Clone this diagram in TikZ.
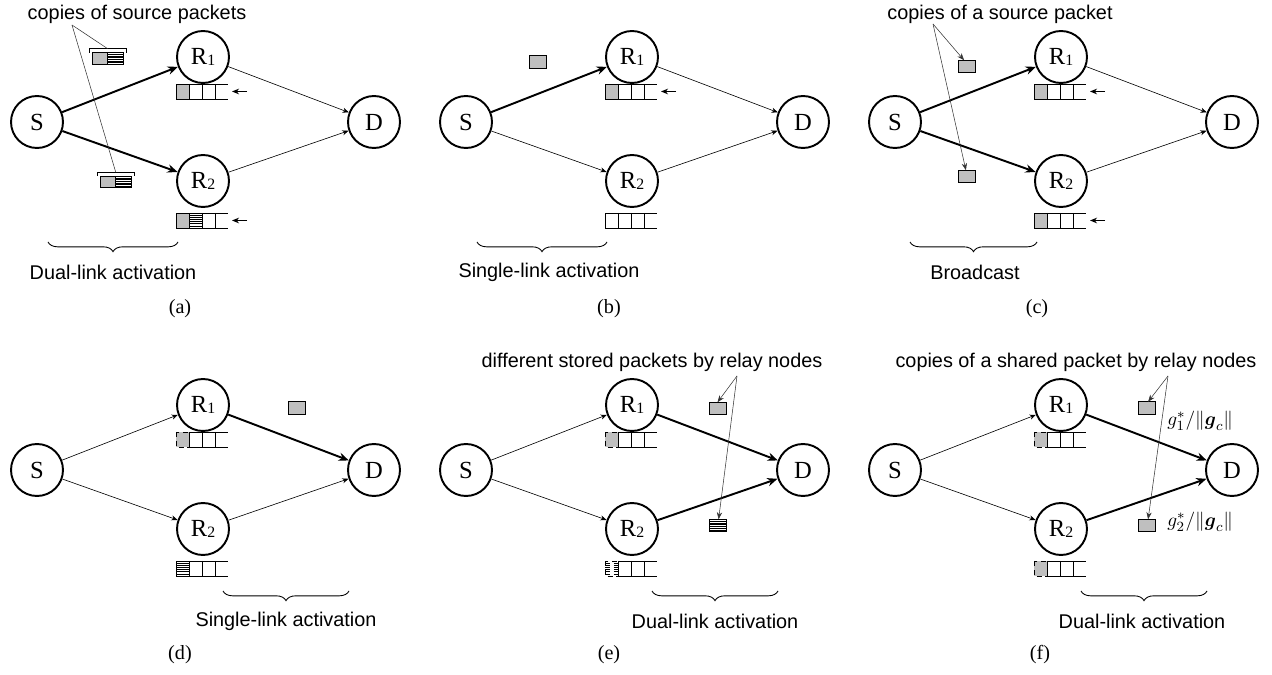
\documentclass[tikz,border=0pt]{standalone}
\usepackage{amsmath,amssymb}
\usepackage{fontspec}
\setmainfont{Liberation Serif}
\setsansfont{Liberation Sans}
\usetikzlibrary{arrows.meta,calc,decorations.pathreplacing}
\definecolor{pktgray}{RGB}{191,191,191}

% small index of a relay name
\newcommand{\rsub}[1]{\raisebox{-0.6pt}{\fontsize{9}{9}\selectfont #1}}
% queue of a relay: #1 top-left corner, #2 style of the head cell
\newcommand{\qbuf}[2]{%
  \draw[#2] (#1) rectangle ++(13,15);
  \draw[bufline] ($(#1)+(13,0)$) -- ++(39,0) ($(#1)+(13,15)$) -- ++(39,0);
  \foreach \k in {13,26,39} \draw[bufline] ($(#1)+(\k,0)$) -- ++(0,15);
}

\begin{document}
\begin{tikzpicture}[
  x=0.02cm, y=-0.02cm,
  relay/.style={circle, draw, line width=1.1pt, minimum size=1.04cm, inner sep=0pt, font=\fontsize{14}{14}\selectfont},
  linkthick/.style={-{Stealth[length=2.5pt 3, width=2pt 2.5]}, line width=1.1pt},
  linkthin/.style={-{Stealth[length=2.5pt 3, width=2pt 2.5]}, line width=0.35pt},
  callout/.style={line width=0.3pt, black!80, -{Stealth[length=4pt, width=3pt]}},
  leader/.style={line width=0.3pt, black!80},
  bufline/.style={line width=0.55pt},
  bufarrow/.style={line width=0.6pt, -{Stealth[length=4pt, width=3.2pt]}},
  hatchfill/.style={path picture={
    \foreach \k in {1,...,6}
      \draw[line width=0.3pt] ($(path picture bounding box.north west)!\k/7!(path picture bounding box.south west)$) -- ($(path picture bounding box.north east)!\k/7!(path picture bounding box.south east)$);}},
  cellfull/.style={bufline, fill=pktgray},
  cellghost/.style={bufline, densely dashed, fill=pktgray},
  cellhatch/.style={bufline, hatchfill},
  cellghosthatch/.style={bufline, densely dashed, hatchfill},
  cellnone/.style={bufline},
  packet/.style={rectangle, draw, line width=0.5pt, fill=pktgray, inner sep=0pt, outer sep=0pt, minimum width=0.34cm, minimum height=0.25cm},
  pairbox/.style={minimum width=0.31cm, minimum height=0.23cm},
  bracketline/.style={line width=0.5pt},
  brace/.style={decorate, decoration={brace, mirror, amplitude=5.5pt}, line width=0.5pt},
  caption/.style={font=\sffamily\fontsize{11.3}{12}\selectfont, inner sep=1pt},
  gainlabel/.style={anchor=west, inner sep=0pt, font=\fontsize{11}{12}\selectfont},
  tag/.style={font=\fontsize{11.5}{12}\selectfont}
]
\useasboundingbox (0,0) rectangle (1272,675);

% the same four-node network in every panel
\foreach \p/\px/\py/\lsa/\lsb/\lra/\lrb in {
    a/0/0/linkthick/linkthick/linkthin/linkthin,
    b/429/0/linkthick/linkthin/linkthin/linkthin,
    c/858/0/linkthick/linkthick/linkthin/linkthin,
    d/0/348/linkthin/linkthin/linkthick/linkthin,
    e/429/348/linkthin/linkthin/linkthick/linkthick,
    f/858/348/linkthin/linkthin/linkthick/linkthick} {
  \begin{scope}[shift={(\px,\py)}]
    \node[relay] (S\p) at (37,122) {S};
    \node[relay] (R1\p) at (203,57) {R\rsub{1}};
    \node[relay] (R2\p) at (203,181) {R\rsub{2}};
    \node[relay] (D\p) at (374,122) {D};
    \draw[\lsa] (S\p) -- (R1\p);
    \draw[\lsb] (S\p) -- (R2\p);
    \draw[\lra] (R1\p) -- (D\p);
    \draw[\lrb] (R2\p) -- (D\p);
    \coordinate (Q1\p) at (176,84);
    \coordinate (Q2\p) at (176,213);
  \end{scope}
}

% (a) dual-link activation
\qbuf{Q1a}{cellfull}
\qbuf{Q2a}{cellfull}
\path[hatchfill] ($(Q2a)+(13,0)$) rectangle ++(13,15);
\draw[bufarrow] ($(Q1a)+(71,7.5)$) -- ++(-15,0);
\draw[bufarrow] ($(Q2a)+(71,7.5)$) -- ++(-15,0);
\node[caption] (capa) at (137,14) {copies of source packets};
\coordinate (ta) at (72,25);
\node[packet, pairbox] (pa1) at (100,58.5) {};
\node[packet, pairbox, fill=white, hatchfill, anchor=west] (pa2) at (pa1.east) {};
\node[packet, pairbox] (pa3) at (108,182) {};
\node[packet, pairbox, fill=white, hatchfill, anchor=west] (pa4) at (pa3.east) {};
\draw[bracketline] ($(pa1.north west)+(-3,0)$) -- ++(0,-4) -- ($(pa2.north east)+(3,-4)$) -- ++(0,4);
\draw[bracketline] ($(pa3.north west)+(-3,0)$) -- ++(0,-4) -- ($(pa4.north east)+(3,-4)$) -- ++(0,4);
\draw[leader] (ta) -- ($(pa1.north east)+(0,-4)$);
\draw[leader] (ta) -- ($(pa3.north east)+(0,-4)$);
\draw[brace] (48,242) -- (178,242);
\node[caption] (acta) at (113,272) {Dual-link activation};
\node[tag] (taga) at (180,309) {(a)};

% (b) single-link activation
\begin{scope}[shift={(429,0)}]
  \node[packet] (pb) at (108.5,62) {};
  \draw[brace] (48,242) -- (178,242);
  \node[caption] (actb) at (120,272) {Single-link activation};
  \node[tag] (tagb) at (180,309) {(b)};
\end{scope}
\qbuf{Q1b}{cellfull}
\qbuf{Q2b}{cellnone}
\draw[bufarrow] ($(Q1b)+(71,7.5)$) -- ++(-15,0);

% (c) broadcast
\begin{scope}[shift={(858,0)}]
  \node[caption] (capc) at (142,14) {copies of a source packet};
  \coordinate (tc) at (75,24);
  \node[packet] (pc1) at (109,66.5) {};
  \node[packet] (pc2) at (109,176.5) {};
  \draw[brace] (52,242) -- (179,242);
  \node[caption] (actc) at (117,272) {Broadcast};
  \node[tag] (tagc) at (179,309) {(c)};
\end{scope}
\draw[callout] (tc) -- (pc1.115);
\draw[callout] (tc) -- (pc2.100);
\qbuf{Q1c}{cellfull}
\qbuf{Q2c}{cellfull}
\draw[bufarrow] ($(Q1c)+(71,7.5)$) -- ++(-15,0);
\draw[bufarrow] ($(Q2c)+(71,7.5)$) -- ++(-15,0);

% (d) single-link activation, relay side
\begin{scope}[shift={(0,348)}]
  \node[packet] (pd) at (296.5,60) {};
  \draw[brace] (223,243) -- (349,243);
  \node[caption] (actd) at (286,273) {Single-link activation};
  \node[tag] (tagd) at (180,307) {(d)};
\end{scope}
\qbuf{Q1d}{cellghost}
\qbuf{Q2d}{cellhatch}

% (e) dual-link activation, different packets
\begin{scope}[shift={(429,348)}]
  \node[caption] (cape) at (223,14) {different stored packets by relay nodes};
  \coordinate (te) at (308,28);
  \node[packet] (pe1) at (288.5,60.5) {};
  \node[packet, fill=white, hatchfill] (pe2) at (288.5,177.5) {};
  \draw[brace] (223,243) -- (349,243);
  \node[caption] (acte) at (286,273) {Dual-link activation};
  \node[tag] (tage) at (180,307) {(e)};
\end{scope}
\draw[callout] (te) -- (pe1.north);
\draw[callout] (te) -- (pe2.80);
\qbuf{Q1e}{cellghost}
\qbuf{Q2e}{cellghosthatch}

% (f) dual-link activation, shared packet
\begin{scope}[shift={(858,348)}]
  \node[caption] (capf) at (218,14) {copies of a shared packet by relay nodes};
  \coordinate (tf) at (310,28);
  \node[packet] (pf1) at (289,60) {};
  \node[packet] (pf2) at (289,177.5) {};
  \node[gainlabel] (gf1) at (309,73) {$g_1^*/\|\boldsymbol{g}_c\|$};
  \node[gainlabel] (gf2) at (309,174) {$g_2^*/\|\boldsymbol{g}_c\|$};
  \draw[brace] (223,243) -- (349,243);
  \node[caption] (actf) at (284,273) {Dual-link activation};
  \node[tag] (tagf) at (182,307) {(f)};
\end{scope}
\draw[callout] (tf) -- (pf1.80);
\draw[callout] (tf) -- (pf2.80);
\qbuf{Q1f}{cellghost}
\qbuf{Q2f}{cellghost}

\end{tikzpicture}
\end{document}
